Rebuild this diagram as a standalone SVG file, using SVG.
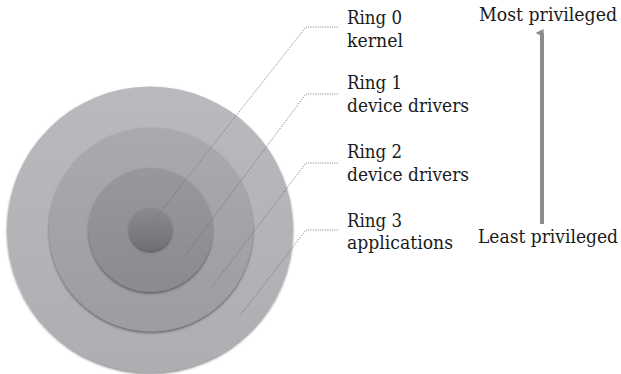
<svg xmlns="http://www.w3.org/2000/svg" width="621" height="374" viewBox="0 0 621 374">
<defs>
<style>
.lead{fill:none;stroke:#6e6f72;stroke-width:0.8;stroke-dasharray:1.2 1.2}
.lbl{font-family:"DejaVu Serif Condensed","DejaVu Serif",serif;font-stretch:condensed;font-size:19px;fill:#1a1a1a}
</style>
<linearGradient id="g3" x1="0" y1="0" x2="0" y2="1"><stop offset="0" stop-color="#b9babd"/><stop offset="1" stop-color="#adaeb1"/></linearGradient>
<linearGradient id="g2" x1="0" y1="0" x2="0" y2="1"><stop offset="0" stop-color="#a9aaad"/><stop offset="1" stop-color="#9c9da0"/></linearGradient>
<linearGradient id="g1" x1="0" y1="0" x2="0" y2="1"><stop offset="0" stop-color="#97989b"/><stop offset="1" stop-color="#8a8b8e"/></linearGradient>
<linearGradient id="g0" x1="0" y1="0" x2="0" y2="1"><stop offset="0" stop-color="#8a8b8e"/><stop offset="1" stop-color="#6f7073"/></linearGradient>
<filter id="sh" x="-10%" y="-10%" width="120%" height="125%"><feDropShadow dx="0" dy="1.5" stdDeviation="1" flood-color="#2a2a2a" flood-opacity="0.6"/></filter>
<marker id="ah" viewBox="0 0 10 10" refX="5" refY="8" markerWidth="2" markerHeight="2" orient="auto-start-reverse"><path d="M0,10 L5,0 L10,10 Z" fill="#8a8b8e"/></marker>
</defs>
<g id="ring3"><circle cx="150" cy="229.5" r="143" fill="url(#g3)" filter="url(#sh)"/></g>
<g id="ring2"><circle cx="151" cy="229.5" r="102" fill="url(#g2)" filter="url(#sh)"/></g>
<g id="ring1"><circle cx="150.5" cy="230" r="62" fill="url(#g1)" filter="url(#sh)"/></g>
<g id="ring0"><circle cx="150.5" cy="229.5" r="21.5" fill="url(#g0)" filter="url(#sh)"/></g>
<g id="connectors">
<path class="lead" d="M338,27 L306,27 L150,225"/>
<path class="lead" d="M338,94 L306,94 L183,258"/>
<path class="lead" d="M338,163 L306,163 L211,288"/>
<path class="lead" d="M338,230 L306,230 L239,317"/>
<line x1="542" y1="224" x2="542" y2="33" stroke="#8a8b8e" stroke-width="4" marker-end="url(#ah)"/>
</g>
<g id="label0"><text class="lbl" x="347" y="24" textLength="55" lengthAdjust="spacingAndGlyphs">Ring 0</text><text class="lbl" x="347" y="47" textLength="56" lengthAdjust="spacingAndGlyphs">kernel</text></g>
<g id="label1"><text class="lbl" x="347" y="89" textLength="55" lengthAdjust="spacingAndGlyphs">Ring 1</text><text class="lbl" x="347" y="112" textLength="122" lengthAdjust="spacingAndGlyphs">device drivers</text></g>
<g id="label2"><text class="lbl" x="347" y="158" textLength="55" lengthAdjust="spacingAndGlyphs">Ring 2</text><text class="lbl" x="347" y="181" textLength="122" lengthAdjust="spacingAndGlyphs">device drivers</text></g>
<g id="label3"><text class="lbl" x="347" y="227" textLength="55" lengthAdjust="spacingAndGlyphs">Ring 3</text><text class="lbl" x="347" y="249" textLength="106" lengthAdjust="spacingAndGlyphs">applications</text></g>
<g id="most"><text class="lbl" x="479" y="21" textLength="138" lengthAdjust="spacingAndGlyphs">Most privileged</text></g>
<g id="least"><text class="lbl" x="478" y="243" textLength="140" lengthAdjust="spacingAndGlyphs">Least privileged</text></g>
</svg>
